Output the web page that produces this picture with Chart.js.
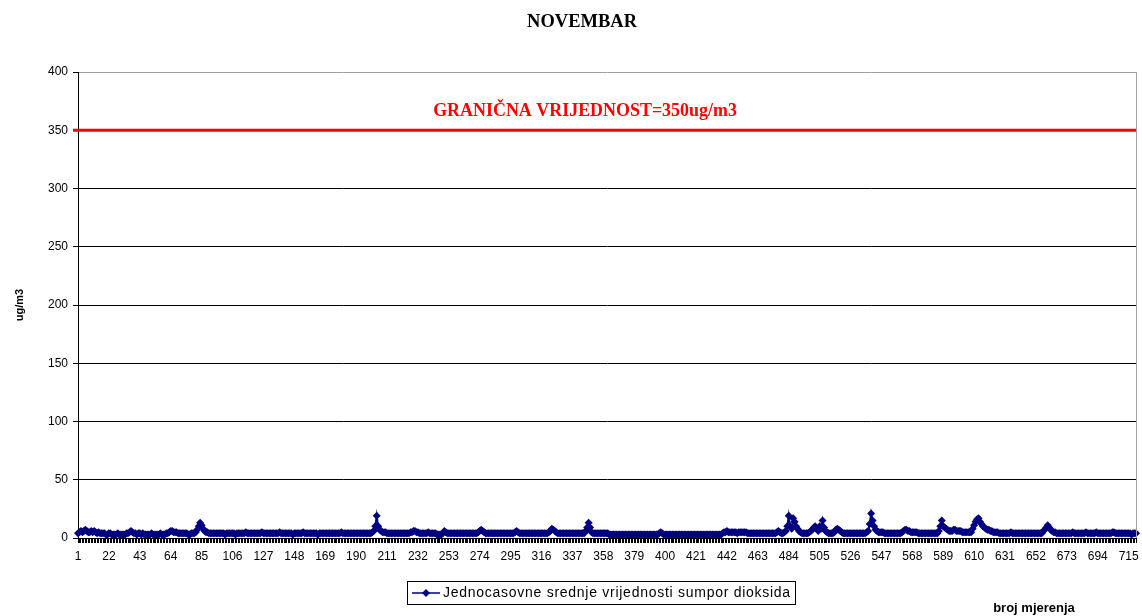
<!DOCTYPE html>
<html>
<head>
<meta charset="utf-8">
<script src="https://cdn.jsdelivr.net/npm/chart.js@4/dist/chart.umd.min.js"></script>
<style>
  html, body { margin: 0; padding: 0; background: #fff; }
  #wrap { width: 1142px; height: 616px; }
</style>
</head>
<body>
<div id="wrap"><canvas id="c" width="1142" height="616"></canvas></div>
<script>
// ---- DATA ----
const TITLE = 'NOVEMBAR';
const SERIES_NAME = 'Jednocasovne srednje vrijednosti sumpor dioksida';
const Y_TITLE = 'ug/m3';
const X_TITLE = 'broj mjerenja';
const LIMIT_VALUE = 350;
const LIMIT_LABEL = 'GRANIČNA VRIJEDNOST=350ug/m3';
const Y_MIN = 0, Y_MAX = 400, Y_STEP = 50;
const X_TICK_LABELS = [1, 22, 43, 64, 85, 106, 127, 148, 169, 190, 211, 232, 253, 274, 295, 316, 337, 358, 379, 400, 421, 442, 463, 484, 505, 526, 547, 568, 589, 610, 631, 652, 673, 694, 715];

// hourly SO2 values (720 measurements, 24 per row)
const SO2_VALUES = [
  4,5,6,5,6,7,6,5,5,6,5,6,5,4,5,4,4,4,4,3,3,4,4,3,
  3,3,3,4,3,3,3,3,3,4,4,5,6,5,4,4,3,4,4,3,4,3,3,3,
  3,3,4,3,3,3,3,3,4,3,3,3,4,4,5,6,6,5,5,5,4,4,4,4,
  4,4,4,3,3,4,4,4,5,7,10,13,11,8,6,5,5,4,4,4,4,4,4,4,
  4,4,4,4,3,4,4,4,4,4,4,3,4,4,4,4,4,4,5,4,4,4,4,4,
  4,4,4,4,4,5,4,4,4,4,4,4,4,4,4,4,4,5,4,4,4,4,4,4,
  4,4,3,4,4,4,4,4,4,5,4,4,4,4,4,4,4,4,4,3,4,4,4,4,
  4,4,4,4,4,4,4,4,4,4,4,5,4,4,4,4,4,4,4,4,4,4,4,4,
  4,4,4,4,4,4,4,4,5,6,10,19,10,7,6,5,5,5,4,4,4,4,4,4,
  4,4,4,4,4,4,4,4,4,4,5,5,6,6,5,5,4,4,4,4,4,4,5,4,
  4,4,4,4,3,3,3,3,4,6,5,4,4,4,4,4,4,4,4,4,4,4,4,4,
  4,4,4,4,4,4,4,4,5,6,7,6,5,4,4,4,4,4,4,4,4,4,4,4,
  4,4,4,4,4,4,4,4,4,5,6,5,4,4,4,4,4,4,4,4,4,4,4,4,
  4,4,4,4,4,4,4,4,5,6,8,7,6,5,4,4,4,4,4,4,4,4,4,4,
  4,4,4,4,4,4,4,4,4,6,9,13,9,5,4,4,4,4,4,4,4,4,4,4,
  4,3,3,3,3,3,3,3,3,3,3,3,3,3,3,3,3,3,3,3,3,3,3,3,
  3,3,3,3,3,3,3,3,3,3,3,4,5,4,3,3,3,3,3,3,3,3,3,3,
  3,3,3,3,3,3,3,3,3,3,3,3,3,3,3,3,3,3,3,3,3,3,3,3,
  3,3,3,3,3,3,4,5,5,6,5,5,5,5,5,5,4,5,5,5,5,5,5,4,
  4,4,4,4,4,4,4,4,4,4,4,4,4,4,4,4,4,4,4,5,6,5,4,4,
  5,6,10,19,10,8,17,14,10,8,6,5,4,4,4,4,4,5,6,7,9,10,8,6,
  10,8,15,9,6,5,4,4,4,4,5,7,8,7,6,5,4,4,4,4,4,4,4,4,
  4,4,4,4,4,4,4,4,5,6,12,21,15,10,7,6,5,5,5,5,4,4,4,4,
  4,4,4,4,4,4,4,4,5,6,7,7,6,6,5,5,5,5,5,4,4,4,4,4,
  4,4,4,4,4,4,4,4,4,6,10,15,10,9,8,7,6,6,6,7,7,6,6,6,
  6,5,5,5,5,5,5,5,8,11,14,16,17,14,12,10,9,8,7,7,6,6,5,5,
  5,5,4,4,4,4,4,4,4,4,5,4,4,4,4,4,4,4,4,4,4,4,4,4,
  4,4,4,4,4,4,4,4,6,7,9,11,9,7,6,5,5,4,4,4,4,4,4,4,
  4,4,4,4,5,4,4,4,4,4,4,4,4,5,4,4,4,4,4,4,5,4,4,4,
  4,4,4,4,4,4,4,5,5,4,4,4,4,4,4,4,4,4,4,4,3,4,4,4
];

// category labels: measurement number for each value
const CATEGORIES = SO2_VALUES.map((v, i) => String(i + 1));

// ---- STYLE ----
const NAVY = '#000080';
const SANS = '"Liberation Sans", Arial, sans-serif';
const SERIF = '"Liberation Serif", "Times New Roman", serif';

function fitFont(ctx, text, weight, family, targetWidth) {
  ctx.font = weight + ' 100px ' + family;
  const w = ctx.measureText(text).width;
  return 100 * targetWidth / w;
}

const decorPlugin = {
  id: 'decor',
  afterDatasetsDraw(chart) {
    const ctx = chart.ctx;
    const a = chart.chartArea;
    const y = chart.scales.y;
    ctx.save();
    // right border of plot area
    ctx.strokeStyle = '#a0a0a0';
    ctx.lineWidth = 1;
    ctx.beginPath();
    ctx.moveTo(a.right + 0.5, a.top);
    ctx.lineTo(a.right + 0.5, a.bottom);
    ctx.stroke();
    // limit line
    const py = y.getPixelForValue(LIMIT_VALUE);
    ctx.strokeStyle = '#ff0000';
    ctx.lineWidth = 3;
    ctx.beginPath();
    ctx.moveTo(a.left - 5, py);
    ctx.lineTo(a.right, py);
    ctx.stroke();
    // limit label
    const fs = fitFont(ctx, LIMIT_LABEL, 'bold', SERIF, 304);
    ctx.font = 'bold ' + fs.toFixed(2) + 'px ' + SERIF;
    ctx.fillStyle = '#ff0000';
    ctx.textAlign = 'center';
    ctx.textBaseline = 'middle';
    ctx.fillText(LIMIT_LABEL, 585, py - 19);
    ctx.restore();
  },
  afterDraw(chart) {
    const ctx = chart.ctx;
    ctx.save();
    // title
    const tfs = fitFont(ctx, TITLE, 'bold', SERIF, 110);
    ctx.font = 'bold ' + tfs.toFixed(2) + 'px ' + SERIF;
    ctx.fillStyle = '#000';
    ctx.textAlign = 'center';
    ctx.textBaseline = 'middle';
    ctx.fillText(TITLE, 582, 22);
    // legend box
    const bx = 407.5, by = 581.5, bw = 388, bh = 23;
    ctx.strokeStyle = '#000';
    ctx.lineWidth = 1;
    ctx.strokeRect(bx, by, bw, bh);
    const ly = by + bh / 2;
    ctx.strokeStyle = NAVY;
    ctx.lineWidth = 1.5;
    ctx.beginPath();
    ctx.moveTo(412, ly);
    ctx.lineTo(440, ly);
    ctx.stroke();
    ctx.fillStyle = NAVY;
    ctx.beginPath();
    ctx.moveTo(426, ly - 4);
    ctx.lineTo(430, ly);
    ctx.lineTo(426, ly + 4);
    ctx.lineTo(422, ly);
    ctx.closePath();
    ctx.fill();
    ctx.font = 'normal 14px ' + SANS;
    ctx.fillStyle = '#000';
    ctx.textAlign = 'left';
    const natural = ctx.measureText(SERIES_NAME).width;
    const sp = (347 - natural) / (SERIES_NAME.length - 1);
    if ('letterSpacing' in ctx && sp > 0) ctx.letterSpacing = sp.toFixed(2) + 'px';
    ctx.fillText(SERIES_NAME, 443, ly + 0.5);
    if ('letterSpacing' in ctx) ctx.letterSpacing = '0px';
    // x axis title
    ctx.font = 'bold 13px ' + SANS;
    ctx.textAlign = 'center';
    ctx.fillText(X_TITLE, 1034, 608);
    ctx.restore();
  }
};

const ctx = document.getElementById('c').getContext('2d');
new Chart(ctx, {
  type: 'line',
  data: {
    labels: CATEGORIES,
    datasets: [{
      label: SERIES_NAME,
      data: SO2_VALUES,
      borderColor: NAVY,
      backgroundColor: NAVY,
      borderWidth: 2,
      pointStyle: 'rectRot',
      pointRadius: 4,
      pointBorderWidth: 0,
      pointBackgroundColor: NAVY,
      tension: 0,
      fill: false
    }]
  },
  options: {
    responsive: false,
    animation: false,
    events: [],
    layout: { padding: { top: 72, right: 4, bottom: 0, left: 0 } },
    plugins: {
      legend: { display: false },
      title: { display: false },
      tooltip: { enabled: false }
    },
    scales: {
      x: {
        type: 'category',
        offset: false,
        afterFit(scale) { scale.height = 78; },
        grid: {
          drawOnChartArea: false,
          drawTicks: true,
          tickLength: 5,
          color: '#000',
          lineWidth: 1
        },
        border: { display: true, color: '#000', width: 1 },
        ticks: {
          autoSkip: false,
          maxRotation: 0,
          minRotation: 0,
          padding: 6,
          color: '#000',
          font: { family: SANS, size: 12 },
          callback(value, index) {
            const lab = Number(this.getLabelForValue(value));
            return X_TICK_LABELS.includes(lab) ? String(lab) : '';
          }
        },
        title: { display: false }
      },
      y: {
        min: Y_MIN,
        max: Y_MAX,
        afterFit(scale) { scale.width = 78; },
        grid: {
          color: (c) => (c.tick && c.tick.value === Y_MAX) ? '#a0a0a0' : '#000',
          tickColor: '#000',
          tickLength: 5,
          lineWidth: 1
        },
        border: { display: true, color: '#000', width: 1 },
        ticks: {
          stepSize: Y_STEP,
          padding: 5,
          color: '#000',
          font: { family: SANS, size: 12 }
        },
        title: {
          display: true,
          text: Y_TITLE,
          color: '#000',
          font: { family: SANS, size: 11, weight: 'bold' },
          padding: { top: 13, bottom: 0 }
        }
      }
    }
  },
  plugins: [decorPlugin]
});
</script>
</body>
</html>
